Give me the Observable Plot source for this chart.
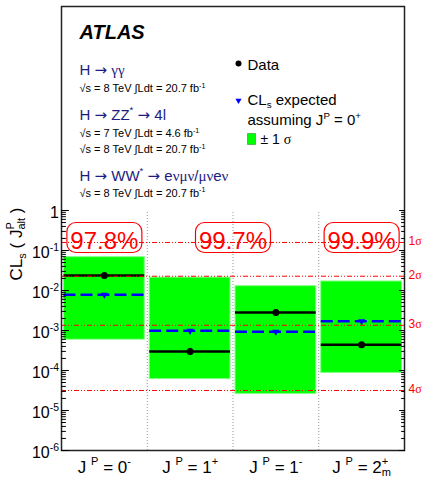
<!DOCTYPE html>
<html><head><meta charset="utf-8">
<script src="https://cdn.jsdelivr.net/npm/d3@7"></script>
<script src="https://cdn.jsdelivr.net/npm/@observablehq/plot@0.6"></script>
<style>body{margin:0;background:#fff} svg text{white-space:pre}</style>
</head><body><div id="chart"></div>
<script>
// ---------- data ----------
const categories = ["J ^{P} = 0^{-}", "J ^{P} = 1^{+}", "J ^{P} = 1^{-}", "J ^{P} = 2^{+}_{m}"];
const dataCLs = [0.0237, 3.0e-4, 2.8e-3, 4.4e-4];
const expectedCLs = [0.0078, 9.8e-4, 9.3e-4, 1.7e-3];
const bandHigh = [0.068, 0.021, 0.0128, 0.0168];
const bandLow = [5.9e-4, 6.1e-5, 2.6e-5, 8.7e-5];
const sigmaValues = [0.1587, 0.02275, 0.00135, 3.167e-5];
const sigmaLabels = ["1σ", "2σ", "3σ", "4σ"];
const exclusionLabels = ["97.8%", "99.7%", "99.9%"];
const exclusionCats = [[0], [1, 2], [3]];
const yTickValues = [1, 1e-1, 1e-2, 1e-3, 1e-4, 1e-5, 1e-6];
const yTickLabels = ["1", "10^{-1}", "10^{-2}", "10^{-3}", "10^{-4}", "10^{-5}", "10^{-6}"];
const yTitle = "CL_{s} ( J^{P}_{alt} )";
const processLabels = ["H → γγ", "H → ZZ^{*} → 4l", "H → WW^{*} → eνμν/μνeν"];
const lumiLabels = ["√s = 8 TeV ∫Ldt = 20.7 fb^{-1}", "√s = 7 TeV ∫Ldt = 4.6 fb^{-1}", "√s = 8 TeV ∫Ldt = 20.7 fb^{-1}", "√s = 8 TeV ∫Ldt = 20.7 fb^{-1}"];
const legendLabels = ["Data", "CL_{s} expected", "assuming J^{P} = 0^{+}", "± 1 σ"];

const rows = categories.map((c, i) => ({i, c, data: dataCLs[i], exp: expectedCLs[i], lo: bandLow[i], hi: bandHigh[i]}));
const minorTicks = [];
for (let k = -6; k < 0; k++) for (let m = 2; m <= 9; m++) minorTicks.push(m * Math.pow(10, k));

// ---------- styles ----------
const GREEN = "#00ff00", BLUE = "#0000ff", RED = "#ff0000", NAVY = "#1c1c80";
const tickShape = {draw(ctx, l) { ctx.moveTo(0, 0); ctx.lineTo(0, -l); }};
const roundBox = {draw(ctx) {
  const w = 37.5, h = 15, r = 9;
  ctx.moveTo(-w + r, -h); ctx.lineTo(w - r, -h); ctx.arcTo(w, -h, w, -h + r, r);
  ctx.lineTo(w, h - r); ctx.arcTo(w, h, w - r, h, r); ctx.lineTo(-w + r, h);
  ctx.arcTo(-w, h, -w, h - r, r); ctx.lineTo(-w, -h + r); ctx.arcTo(-w, -h, -w + r, -h, r); ctx.closePath();
}};
const legendBox = {draw(ctx) { ctx.rect(-4, -5.5, 8, 11); }};
const inset = {insetLeft: 2.5, insetRight: 2.5};

const tl = (text, dx, dy, opts = {}) => Plot.text([text], {frameAnchor: "top-left", dx, dy, textAnchor: "start", lineAnchor: "bottom", text: d => d, ...opts});

const plot = Plot.plot({
  width: 423, height: 477,
  marginTop: 6, marginBottom: 27, marginLeft: 61, marginRight: 19,
  style: {fontFamily: "'Liberation Sans', Arial, Helvetica, sans-serif", background: "white", overflow: "visible"},
  x: {type: "linear", domain: [0, 4], axis: null},
  y: {type: "log", domain: [1e-6, Math.pow(10, 5.1)], axis: null},
  marks: [
    Plot.ruleX([1, 2, 3], {x: d => d, y1: 1e-6, y2: 1, stroke: "#999", strokeDasharray: "1,2", strokeWidth: 1}),
    Plot.rect(rows, {x1: d => d.i, x2: d => d.i + 1, y1: "lo", y2: "hi", ...inset, fill: GREEN, stroke: "#80ff80", strokeWidth: 1}),
    Plot.ruleY(rows, {y: "data", x1: d => d.i, x2: d => d.i + 1, ...inset, stroke: "black", strokeWidth: 2.5}),
    Plot.ruleY(rows, {y: "exp", x1: d => d.i, x2: d => d.i + 1, ...inset, stroke: BLUE, strokeWidth: 2.5, strokeDasharray: "12,5"}),
    Plot.ruleY(sigmaValues, {y: d => d, stroke: RED, strokeWidth: 1, strokeDasharray: "5,2,1,2,1,2"}),
    Plot.dot(rows, {x: d => d.i + 0.5, y: "data", r: 3.5, fill: "black"}),
    Plot.dot(rows, {x: d => d.i + 0.5, y: "exp", symbol: "triangle", rotate: 180, r: 2.6, fill: BLUE}),
    Plot.text(sigmaValues, {y: d => d, frameAnchor: "right", dx: 4, dy: -1, textAnchor: "start", text: (d, i) => sigmaLabels[i], fill: RED, fontSize: 12}),
    Plot.dot(exclusionLabels, {x: (d, i) => d3.mean(exclusionCats[i]) + 0.5, frameAnchor: "top", dy: 231, symbol: roundBox, r: 5, fill: "none", stroke: RED, strokeWidth: 1.2}),
    Plot.text(exclusionLabels, {x: (d, i) => d3.mean(exclusionCats[i]) + 0.5, frameAnchor: "top", dy: 225.5, text: d => d, fill: RED, fontSize: 24}),
    Plot.frame({stroke: "#222", strokeWidth: 1.5}),
    // axis ticks (inside, both sides)
    Plot.vector(yTickValues, {y: d => d, frameAnchor: "left", length: 7, rotate: 90, anchor: "start", shape: tickShape, stroke: "black", strokeWidth: 1}),
    Plot.vector(minorTicks, {y: d => d, frameAnchor: "left", length: 4, rotate: 90, anchor: "start", shape: tickShape, stroke: "black", strokeWidth: 1}),
    Plot.vector(yTickValues, {y: d => d, frameAnchor: "right", length: 5, rotate: -90, anchor: "start", shape: tickShape, stroke: "black", strokeWidth: 1}),
    Plot.vector(minorTicks, {y: d => d, frameAnchor: "right", length: 3, rotate: -90, anchor: "start", shape: tickShape, stroke: "black", strokeWidth: 1}),
    Plot.text(yTickValues, {y: d => d, frameAnchor: "left", dx: -2.5, dy: 2, textAnchor: "end", text: (d, i) => yTickLabels[i], fontSize: 16}),
    Plot.text([yTitle], {frameAnchor: "top-left", dx: -40, dy: 201, rotate: -90, textAnchor: "end", lineAnchor: "bottom", text: d => d, fontSize: 17}),
    Plot.text(categories, {x: (d, i) => i + 0.5, frameAnchor: "bottom", dy: 22, lineAnchor: "bottom", text: d => d, fontSize: 17}),
    // legend block
    tl("ATLAS", 18, 32, {fontSize: 20, fontWeight: "bold", fontStyle: "italic"}),
    tl(processLabels[0], 18, 68, {fontSize: 15, fill: NAVY}),
    tl(lumiLabels[0], 18, 85.7, {fontSize: 11}),
    tl(processLabels[1], 18, 113, {fontSize: 15, fill: NAVY}),
    tl(lumiLabels[1], 18, 130.7, {fontSize: 11}),
    tl(lumiLabels[2], 18, 146.7, {fontSize: 11}),
    tl(processLabels[2], 18, 174, {fontSize: 15, fill: NAVY}),
    tl(lumiLabels[3], 18, 190.5, {fontSize: 11}),
    Plot.dot([0], {frameAnchor: "top-left", dx: 177, dy: 57, r: 3, fill: "black"}),
    Plot.dot([0], {frameAnchor: "top-left", dx: 177, dy: 94, symbol: "triangle", rotate: 180, r: 2.3, fill: BLUE}),
    Plot.dot([0], {frameAnchor: "top-left", dx: 190, dy: 132.5, symbol: legendBox, r: 4, fill: GREEN, stroke: "#44aa44", strokeWidth: 0.8}),
    tl(legendLabels[0], 186, 63, {fontSize: 15}),
    tl(legendLabels[1], 186, 98, {fontSize: 15}),
    tl(legendLabels[2], 186, 118.3, {fontSize: 15}),
    tl(legendLabels[3], 199, 137.5, {fontSize: 14})
  ]
});
document.getElementById("chart").append(plot);

// rich text: ^{sup}, _{sub}, ^{sup}_{sub}; Greek letters in a serif face, arrows in DejaVu Sans (ROOT symbol font look)
const NS = "http://www.w3.org/2000/svg";
const SPECIAL = /([γνμσ]+|→)/;
plot.querySelectorAll("text").forEach(t => {
  const s = t.textContent;
  if (!/[\^_]\{/.test(s) && !SPECIAL.test(s)) return;
  const fs = parseFloat(getComputedStyle(t).fontSize);
  const parts = s.split(/(\^\{[^}]*\}_\{[^}]*\}|\^\{[^}]*\}|_\{[^}]*\})/).filter(p => p !== "");
  t.textContent = "";
  let cur = 0;
  const mk = (txt, target, size) => {
    let first = null;
    for (const run of txt.split(SPECIAL).filter(r => r !== "")) {
      const ts = document.createElementNS(NS, "tspan");
      ts.textContent = run;
      if (target !== cur) ts.setAttribute("dy", target - cur);
      cur = target;
      if (size) ts.setAttribute("font-size", size);
      if (run === "→") ts.setAttribute("font-family", "'DejaVu Sans', sans-serif");
      else if (SPECIAL.test(run)) ts.setAttribute("font-family", "'Liberation Serif', 'DejaVu Serif', serif");
      t.appendChild(ts);
      if (!first) first = ts;
    }
    return first;
  };
  for (const p of parts) {
    let m;
    if ((m = p.match(/^\^\{([^}]*)\}_\{([^}]*)\}$/))) {
      const a = mk(m[1], -0.42 * fs, 0.65 * fs);
      const w = a.getComputedTextLength();
      const b = mk(m[2], 0.22 * fs, 0.65 * fs);
      b.setAttribute("dx", -w);
    } else if ((m = p.match(/^\^\{([^}]*)\}$/))) mk(m[1], -0.42 * fs, 0.65 * fs);
    else if ((m = p.match(/^_\{([^}]*)\}$/))) mk(m[1], 0.25 * fs, 0.65 * fs);
    else mk(p, 0, null);
  }
});
</script></body></html>
